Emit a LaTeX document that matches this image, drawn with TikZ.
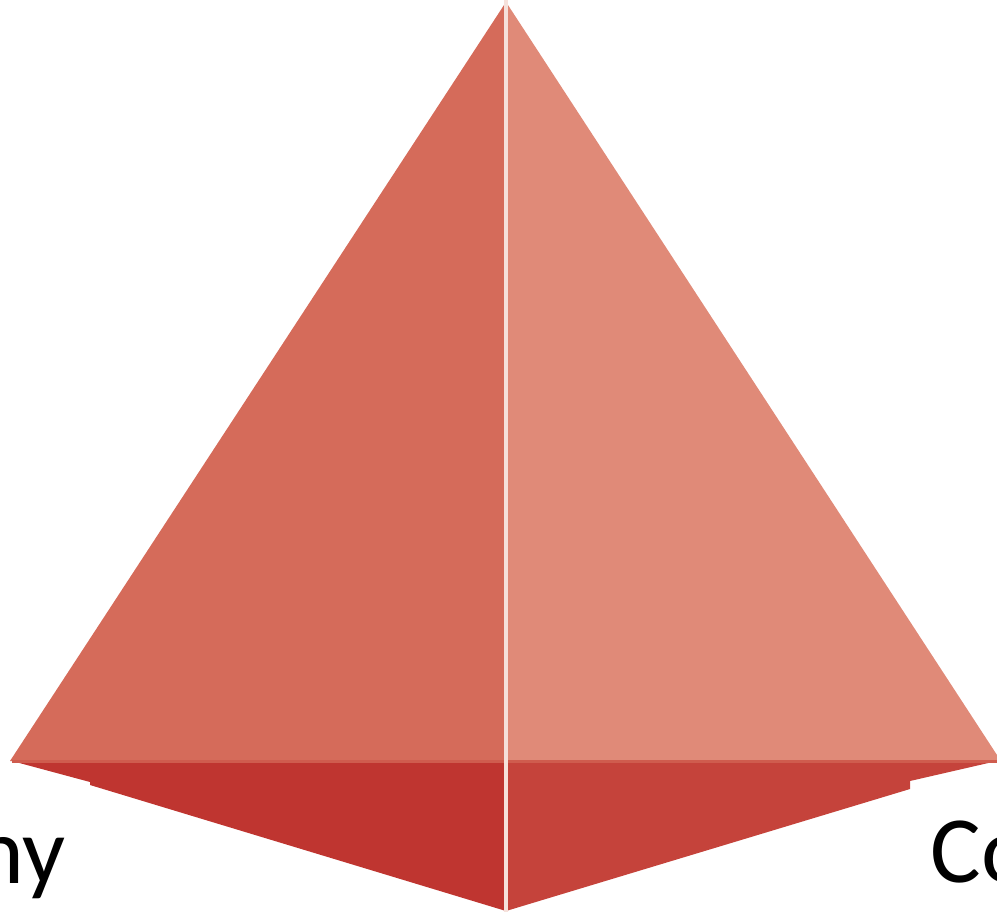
\documentclass[tikz,border=0pt]{standalone}
\usepackage{fontspec}
\setmainfont{Carlito}
\usepackage{tikz}
\usetikzlibrary{positioning,calc}
\usepackage{xcolor}
\definecolor{colfaceL}{HTML}{D56B5A}
\definecolor{colfaceR}{HTML}{E08A78}
\definecolor{colbaseL}{HTML}{BF3530}
\definecolor{colbaseR}{HTML}{C5433B}
\definecolor{colrim}{HTML}{CF5C4E}
\definecolor{colseam}{HTML}{F6E1DB}

\begin{document}
\begin{tikzpicture}[
  x=0.01cm, y=-0.01cm,
  face/.style={draw=none},
  seam/.style={colseam,line width=1.2pt},
  tag/.style={inner sep=0pt,font=\fontsize{27}{30}\selectfont},
]
  \useasboundingbox (0,0) rectangle (997,912);
  \clip (0,0) rectangle (997,912);
  % ---- caras superiores ----
  \fill[face,colfaceL] (506,2) -- (10,761) -- (506,761) -- cycle;
  \fill[face,colfaceR] (506,2) -- (997,755) -- (997,761) -- (506,761) -- cycle;
  % ---- caras inferiores ----
  \fill[face,colbaseL] (12,761) -- (506,761) -- (506,911)
    -- (90,785) -- (90,782) -- cycle;
  \fill[face,colbaseR] (506,761) -- (997,761) -- (910,781)
    -- (910,789) -- (506,911) -- cycle;
  \fill[colrim] (12,759.5) rectangle (997,763);
  % ---- arista central ----
  \coordinate (apex) at (506,0);
  \coordinate (foot) at (506,912);
  \draw[seam] (apex) -- (foot);
  % ---- etiquetas ----
  \node[tag,anchor=base east] (left) at (66,883) {ny};
  \node[tag,anchor=base west] (right) at (930,882) {Co};
\end{tikzpicture}
\end{document}
